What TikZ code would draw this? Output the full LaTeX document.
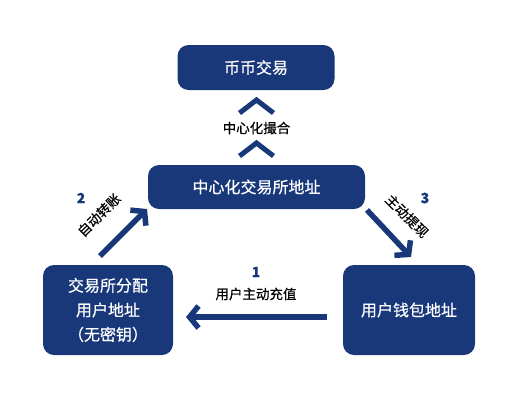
\documentclass[tikz,border=0pt]{standalone}
\usepackage{fontspec}
\setmainfont{Noto Sans CJK SC}[FakeBold=0.5]
\usetikzlibrary{arrows.meta,calc}
\definecolor{navy}{RGB}{24,56,122}
\tikzset{
  box/.style={fill=navy,rounded corners=11pt,text=white,align=center,inner sep=0pt,font=\fontsize{16}{24.5}\selectfont},
  bigarrow/.style={draw=navy,line width=5.5pt,-{Straight Barb[length=9pt,width=22pt,line width=5.5pt]}},
  chev/.style={draw=navy,line width=5pt},
  lbl/.style={font=\fontsize{13.5}{15}\selectfont,text=black,inner sep=0pt},
  num/.style={font=\bfseries\fontsize{14}{15}\selectfont,text=navy,inner sep=0pt}
}
\begin{document}
\begin{tikzpicture}[x=1pt,y=-1pt]
\useasboundingbox (0,0) rectangle (520,400);
\node[box,minimum width=157pt,minimum height=45pt] (top) at (256,67.5) {币币交易};
\node[box,minimum width=217pt,minimum height=44pt] (mid) at (256.5,187) {中心化交易所地址};
\node[box,minimum width=130pt,minimum height=90pt] (left) at (108,310) {交易所分配\\用户地址\\（无密钥）};
\node[box,minimum width=132pt,minimum height=90pt] (right) at (409,310) {用户钱包地址};
% chevrons
\coordinate (c1) at (256.5,100);
\coordinate (c2) at (256.5,143);
\draw[chev] ($(c1)+(-17,13)$) -- (c1) -- ($(c1)+(17,13)$);
\draw[chev] ($(c2)+(-17,13)$) -- (c2) -- ($(c2)+(17,13)$);
\node[lbl] (l0) at (256.5,128) {中心化撮合};
% arrow 1
\coordinate (a1s) at (327,317);
\coordinate (a1e) at (186,317);
\draw[bigarrow] (a1s) -- (a1e);
\node[num] (n1) at (256,272) {1};
\node[lbl] (l1) at (256,294) {用户主动充值};
% arrow 2
\coordinate (a2s) at (100,256);
\coordinate (a2e) at (147,209);
\draw[bigarrow] (a2s) -- (a2e);
\node[num] (n2) at (81,198) {2};
\node[lbl,rotate=45] (l2) at (99,215) {自动转账};
% arrow 3
\coordinate (a3s) at (367,210);
\coordinate (a3e) at (411,257);
\draw[bigarrow] (a3s) -- (a3e);
\node[num] (n3) at (425,198) {3};
\node[lbl,rotate=-45] (l3) at (407,216) {主动提现};
\end{tikzpicture}
\end{document}
